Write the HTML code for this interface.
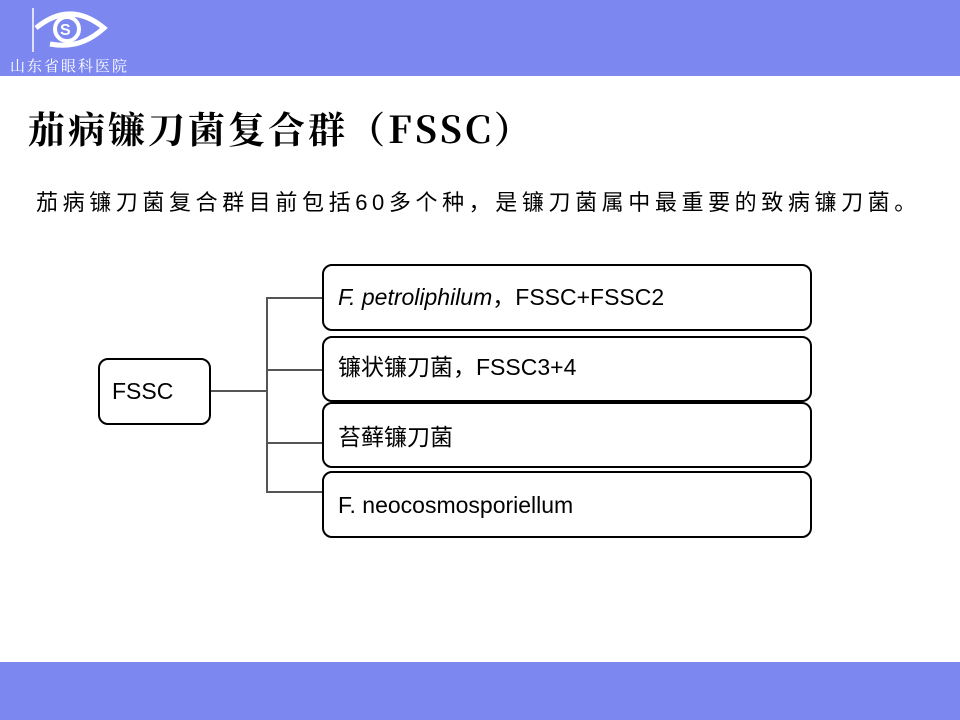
<!DOCTYPE html>
<html><head><meta charset="utf-8"><style>
body{margin:0;width:960px;height:720px;position:relative;background:#fff;overflow:hidden;font-family:"Liberation Sans","Noto Sans CJK SC",sans-serif;}
.top{position:absolute;left:0;top:0;width:960px;height:76px;background:#7c87f0;}
.bot{position:absolute;left:0;top:662px;width:960px;height:58px;background:#7c87f0;}
.t{position:absolute;white-space:nowrap;color:#000;}
.box{position:absolute;border:2.5px solid #000;border-radius:10px;background:#fff;box-sizing:border-box;font-size:23px;padding-left:14px;}
.l{position:absolute;background:#555;}
</style></head><body>
<div class="top">
<svg width="200" height="76" style="position:absolute;left:0;top:0">
<line x1="33" y1="8" x2="33" y2="52" stroke="#fff" stroke-width="1.5"/>
<path d="M36 28 Q70 0 104 28 Q80 50 50 44" fill="none" stroke="#fff" stroke-width="5"/>
<circle cx="67" cy="29" r="12" fill="none" stroke="#fff" stroke-width="4"/>
<text x="60" y="35" font-size="16" font-weight="bold" fill="#fff" font-family="Liberation Sans">S</text>
<text x="10" y="71" font-size="15" fill="#fff" font-family="Noto Serif CJK SC,serif" letter-spacing="2">山东省眼科医院</text>
</svg>
</div>
<div class="bot"></div>
<div class="t" style="left:28px;top:100px;font-size:37px;font-weight:bold;font-family:'Noto Serif CJK SC','Liberation Sans',serif;letter-spacing:3px;">茄病镰刀菌复合群（FSSC）</div>
<div class="t" style="left:36px;top:185px;font-size:22px;letter-spacing:4.6px;">茄病镰刀菌复合群目前包括60多个种，是镰刀菌属中最重要的致病镰刀菌。</div>
<div class="l" style="left:210px;top:390px;width:56px;height:1.5px"></div>
<div class="l" style="left:266px;top:297px;width:1.5px;height:195px"></div>
<div class="l" style="left:266px;top:297px;width:56px;height:1.5px"></div>
<div class="l" style="left:266px;top:369px;width:56px;height:1.5px"></div>
<div class="l" style="left:266px;top:442px;width:56px;height:1.5px"></div>
<div class="l" style="left:266px;top:491px;width:56px;height:1.5px"></div>
<div class="box" style="left:98px;top:358px;width:113px;height:67px;line-height:62px;padding-left:12px">FSSC</div>
<div class="box" style="left:322px;top:264px;width:490px;height:67px;line-height:62px"><i>F. petroliphilum</i>，FSSC+FSSC2</div>
<div class="box" style="left:322px;top:336px;width:490px;height:66px;line-height:58px">镰状镰刀菌，FSSC3+4</div>
<div class="box" style="left:322px;top:402px;width:490px;height:66px;line-height:66px">苔藓镰刀菌</div>
<div class="box" style="left:322px;top:471px;width:490px;height:67px;line-height:64px">F. neocosmosporiellum</div>
</body></html>
